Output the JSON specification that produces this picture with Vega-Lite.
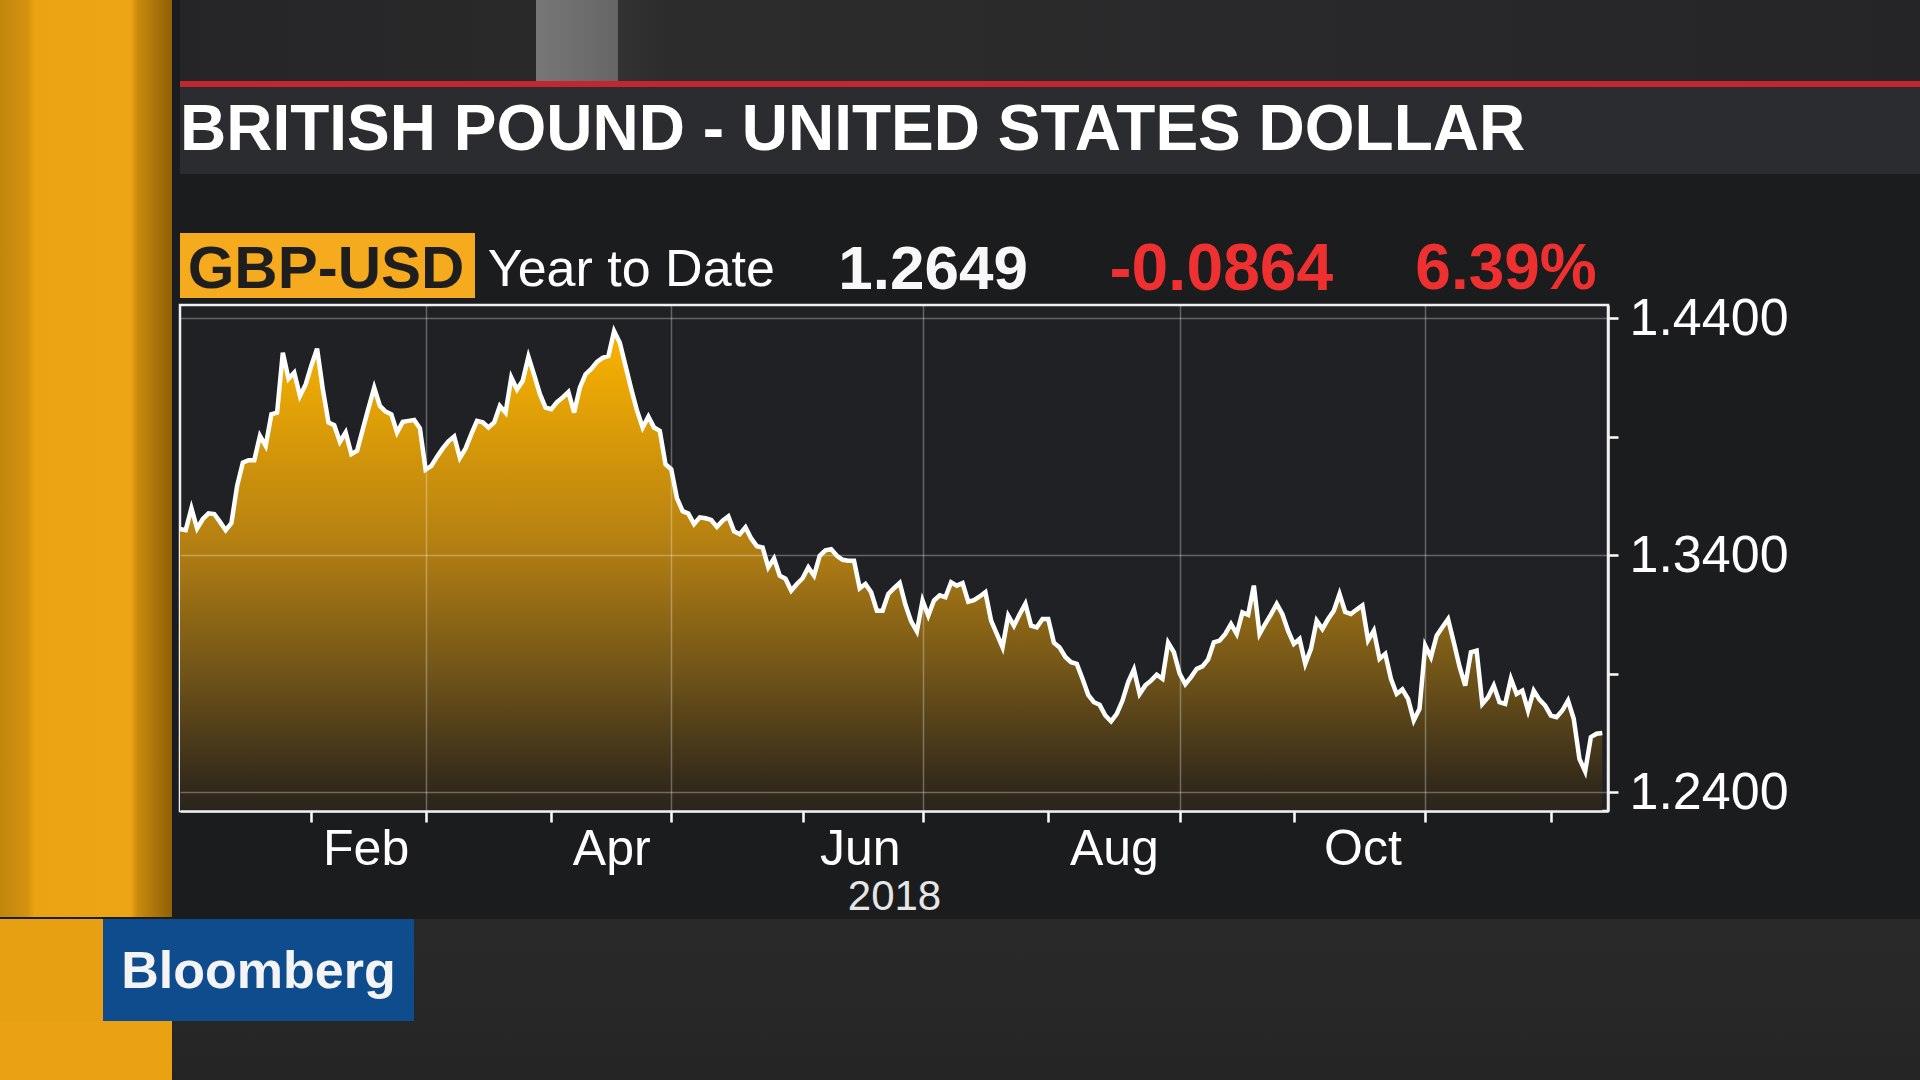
{
  "$schema": "https://vega.github.io/schema/vega-lite/v6.json",
  "background": "#1b1c1e",
  "padding": 0,
  "spacing": 0,
  "bounds": "full",
  "config": {"view": {"stroke": null}, "font": "Liberation Sans"},
  "datasets": {
    "header": [
      {"item": "GBP-USD", "kind": "ticker"},
      {"item": "Year to Date", "kind": "period"},
      {"item": "1.2649", "kind": "last"},
      {"item": "-0.0864", "kind": "change"},
      {"item": "6.39%", "kind": "changePct"}
    ],
    "gbpusd": [
      {"date": "2018-01-01", "day": 0, "price": 1.3510},
      {"date": "2018-01-02", "day": 1, "price": 1.3505},
      {"date": "2018-01-03", "day": 2, "price": 1.3597},
      {"date": "2018-01-04", "day": 3, "price": 1.3512},
      {"date": "2018-01-05", "day": 4, "price": 1.3552},
      {"date": "2018-01-08", "day": 5, "price": 1.3576},
      {"date": "2018-01-09", "day": 6, "price": 1.3573},
      {"date": "2018-01-10", "day": 7, "price": 1.3540},
      {"date": "2018-01-11", "day": 8, "price": 1.3505},
      {"date": "2018-01-12", "day": 9, "price": 1.3535},
      {"date": "2018-01-15", "day": 10, "price": 1.3692},
      {"date": "2018-01-16", "day": 11, "price": 1.3790},
      {"date": "2018-01-17", "day": 12, "price": 1.3800},
      {"date": "2018-01-18", "day": 13, "price": 1.3800},
      {"date": "2018-01-19", "day": 14, "price": 1.3903},
      {"date": "2018-01-22", "day": 15, "price": 1.3861},
      {"date": "2018-01-23", "day": 16, "price": 1.3994},
      {"date": "2018-01-24", "day": 17, "price": 1.4001},
      {"date": "2018-01-25", "day": 18, "price": 1.4254},
      {"date": "2018-01-26", "day": 19, "price": 1.4144},
      {"date": "2018-01-29", "day": 20, "price": 1.4170},
      {"date": "2018-01-30", "day": 21, "price": 1.4071},
      {"date": "2018-01-31", "day": 22, "price": 1.4120},
      {"date": "2018-02-01", "day": 23, "price": 1.4200},
      {"date": "2018-02-02", "day": 24, "price": 1.4271},
      {"date": "2018-02-05", "day": 25, "price": 1.4100},
      {"date": "2018-02-06", "day": 26, "price": 1.3959},
      {"date": "2018-02-07", "day": 27, "price": 1.3948},
      {"date": "2018-02-08", "day": 28, "price": 1.3878},
      {"date": "2018-02-09", "day": 29, "price": 1.3917},
      {"date": "2018-02-12", "day": 30, "price": 1.3826},
      {"date": "2018-02-13", "day": 31, "price": 1.3840},
      {"date": "2018-02-14", "day": 32, "price": 1.3930},
      {"date": "2018-02-15", "day": 33, "price": 1.4020},
      {"date": "2018-02-16", "day": 34, "price": 1.4106},
      {"date": "2018-02-19", "day": 35, "price": 1.4029},
      {"date": "2018-02-20", "day": 36, "price": 1.4005},
      {"date": "2018-02-21", "day": 37, "price": 1.3994},
      {"date": "2018-02-22", "day": 38, "price": 1.3917},
      {"date": "2018-02-23", "day": 39, "price": 1.3962},
      {"date": "2018-02-26", "day": 40, "price": 1.3966},
      {"date": "2018-02-27", "day": 41, "price": 1.3970},
      {"date": "2018-02-28", "day": 42, "price": 1.3935},
      {"date": "2018-03-01", "day": 43, "price": 1.3760},
      {"date": "2018-03-02", "day": 44, "price": 1.3776},
      {"date": "2018-03-05", "day": 45, "price": 1.3815},
      {"date": "2018-03-06", "day": 46, "price": 1.3850},
      {"date": "2018-03-07", "day": 47, "price": 1.3880},
      {"date": "2018-03-08", "day": 48, "price": 1.3900},
      {"date": "2018-03-09", "day": 49, "price": 1.3810},
      {"date": "2018-03-12", "day": 50, "price": 1.3850},
      {"date": "2018-03-13", "day": 51, "price": 1.3910},
      {"date": "2018-03-14", "day": 52, "price": 1.3966},
      {"date": "2018-03-15", "day": 53, "price": 1.3960},
      {"date": "2018-03-16", "day": 54, "price": 1.3938},
      {"date": "2018-03-19", "day": 55, "price": 1.3959},
      {"date": "2018-03-20", "day": 56, "price": 1.4029},
      {"date": "2018-03-21", "day": 57, "price": 1.4001},
      {"date": "2018-03-22", "day": 58, "price": 1.4149},
      {"date": "2018-03-23", "day": 59, "price": 1.4099},
      {"date": "2018-03-26", "day": 60, "price": 1.4135},
      {"date": "2018-03-27", "day": 61, "price": 1.4237},
      {"date": "2018-03-28", "day": 62, "price": 1.4160},
      {"date": "2018-03-29", "day": 63, "price": 1.4080},
      {"date": "2018-03-30", "day": 64, "price": 1.4022},
      {"date": "2018-04-02", "day": 65, "price": 1.4015},
      {"date": "2018-04-03", "day": 66, "price": 1.4045},
      {"date": "2018-04-04", "day": 67, "price": 1.4065},
      {"date": "2018-04-05", "day": 68, "price": 1.4088},
      {"date": "2018-04-06", "day": 69, "price": 1.4001},
      {"date": "2018-04-09", "day": 70, "price": 1.4106},
      {"date": "2018-04-10", "day": 71, "price": 1.4163},
      {"date": "2018-04-11", "day": 72, "price": 1.4185},
      {"date": "2018-04-12", "day": 73, "price": 1.4215},
      {"date": "2018-04-13", "day": 74, "price": 1.4232},
      {"date": "2018-04-16", "day": 75, "price": 1.4240},
      {"date": "2018-04-17", "day": 76, "price": 1.4345},
      {"date": "2018-04-18", "day": 77, "price": 1.4296},
      {"date": "2018-04-19", "day": 78, "price": 1.4198},
      {"date": "2018-04-20", "day": 79, "price": 1.4100},
      {"date": "2018-04-23", "day": 80, "price": 1.4010},
      {"date": "2018-04-24", "day": 81, "price": 1.3938},
      {"date": "2018-04-25", "day": 82, "price": 1.3984},
      {"date": "2018-04-26", "day": 83, "price": 1.3938},
      {"date": "2018-04-27", "day": 84, "price": 1.3924},
      {"date": "2018-04-30", "day": 85, "price": 1.3783},
      {"date": "2018-05-01", "day": 86, "price": 1.3762},
      {"date": "2018-05-02", "day": 87, "price": 1.3640},
      {"date": "2018-05-03", "day": 88, "price": 1.3585},
      {"date": "2018-05-04", "day": 89, "price": 1.3575},
      {"date": "2018-05-07", "day": 90, "price": 1.3531},
      {"date": "2018-05-08", "day": 91, "price": 1.3559},
      {"date": "2018-05-09", "day": 92, "price": 1.3555},
      {"date": "2018-05-10", "day": 93, "price": 1.3548},
      {"date": "2018-05-11", "day": 94, "price": 1.3519},
      {"date": "2018-05-14", "day": 95, "price": 1.3545},
      {"date": "2018-05-15", "day": 96, "price": 1.3563},
      {"date": "2018-05-16", "day": 97, "price": 1.3500},
      {"date": "2018-05-17", "day": 98, "price": 1.3488},
      {"date": "2018-05-18", "day": 99, "price": 1.3517},
      {"date": "2018-05-21", "day": 100, "price": 1.3470},
      {"date": "2018-05-22", "day": 101, "price": 1.3437},
      {"date": "2018-05-23", "day": 102, "price": 1.3432},
      {"date": "2018-05-24", "day": 103, "price": 1.3348},
      {"date": "2018-05-25", "day": 104, "price": 1.3386},
      {"date": "2018-05-28", "day": 105, "price": 1.3313},
      {"date": "2018-05-29", "day": 106, "price": 1.3300},
      {"date": "2018-05-30", "day": 107, "price": 1.3250},
      {"date": "2018-05-31", "day": 108, "price": 1.3278},
      {"date": "2018-06-01", "day": 109, "price": 1.3302},
      {"date": "2018-06-04", "day": 110, "price": 1.3348},
      {"date": "2018-06-05", "day": 111, "price": 1.3313},
      {"date": "2018-06-06", "day": 112, "price": 1.3397},
      {"date": "2018-06-07", "day": 113, "price": 1.3420},
      {"date": "2018-06-08", "day": 114, "price": 1.3425},
      {"date": "2018-06-11", "day": 115, "price": 1.3397},
      {"date": "2018-06-12", "day": 116, "price": 1.3380},
      {"date": "2018-06-13", "day": 117, "price": 1.3376},
      {"date": "2018-06-14", "day": 118, "price": 1.3376},
      {"date": "2018-06-15", "day": 119, "price": 1.3260},
      {"date": "2018-06-18", "day": 120, "price": 1.3278},
      {"date": "2018-06-19", "day": 121, "price": 1.3243},
      {"date": "2018-06-20", "day": 122, "price": 1.3165},
      {"date": "2018-06-21", "day": 123, "price": 1.3165},
      {"date": "2018-06-22", "day": 124, "price": 1.3236},
      {"date": "2018-06-25", "day": 125, "price": 1.3260},
      {"date": "2018-06-26", "day": 126, "price": 1.3282},
      {"date": "2018-06-27", "day": 127, "price": 1.3190},
      {"date": "2018-06-28", "day": 128, "price": 1.3120},
      {"date": "2018-06-29", "day": 129, "price": 1.3078},
      {"date": "2018-07-02", "day": 130, "price": 1.3208},
      {"date": "2018-07-03", "day": 131, "price": 1.3144},
      {"date": "2018-07-04", "day": 132, "price": 1.3208},
      {"date": "2018-07-05", "day": 133, "price": 1.3230},
      {"date": "2018-07-06", "day": 134, "price": 1.3222},
      {"date": "2018-07-09", "day": 135, "price": 1.3285},
      {"date": "2018-07-10", "day": 136, "price": 1.3271},
      {"date": "2018-07-11", "day": 137, "price": 1.3282},
      {"date": "2018-07-12", "day": 138, "price": 1.3203},
      {"date": "2018-07-13", "day": 139, "price": 1.3210},
      {"date": "2018-07-16", "day": 140, "price": 1.3225},
      {"date": "2018-07-17", "day": 141, "price": 1.3243},
      {"date": "2018-07-18", "day": 142, "price": 1.3123},
      {"date": "2018-07-19", "day": 143, "price": 1.3067},
      {"date": "2018-07-20", "day": 144, "price": 1.3011},
      {"date": "2018-07-23", "day": 145, "price": 1.3144},
      {"date": "2018-07-24", "day": 146, "price": 1.3102},
      {"date": "2018-07-25", "day": 147, "price": 1.3150},
      {"date": "2018-07-26", "day": 148, "price": 1.3194},
      {"date": "2018-07-27", "day": 149, "price": 1.3102},
      {"date": "2018-07-30", "day": 150, "price": 1.3095},
      {"date": "2018-07-31", "day": 151, "price": 1.3130},
      {"date": "2018-08-01", "day": 152, "price": 1.3130},
      {"date": "2018-08-02", "day": 153, "price": 1.3030},
      {"date": "2018-08-03", "day": 154, "price": 1.3010},
      {"date": "2018-08-06", "day": 155, "price": 1.2970},
      {"date": "2018-08-07", "day": 156, "price": 1.2948},
      {"date": "2018-08-08", "day": 157, "price": 1.2941},
      {"date": "2018-08-09", "day": 158, "price": 1.2878},
      {"date": "2018-08-10", "day": 159, "price": 1.2810},
      {"date": "2018-08-13", "day": 160, "price": 1.2779},
      {"date": "2018-08-14", "day": 161, "price": 1.2768},
      {"date": "2018-08-15", "day": 162, "price": 1.2723},
      {"date": "2018-08-16", "day": 163, "price": 1.2698},
      {"date": "2018-08-17", "day": 164, "price": 1.2730},
      {"date": "2018-08-20", "day": 165, "price": 1.2786},
      {"date": "2018-08-21", "day": 166, "price": 1.2864},
      {"date": "2018-08-22", "day": 167, "price": 1.2917},
      {"date": "2018-08-23", "day": 168, "price": 1.2814},
      {"date": "2018-08-24", "day": 169, "price": 1.2850},
      {"date": "2018-08-27", "day": 170, "price": 1.2870},
      {"date": "2018-08-28", "day": 171, "price": 1.2895},
      {"date": "2018-08-29", "day": 172, "price": 1.2878},
      {"date": "2018-08-30", "day": 173, "price": 1.3030},
      {"date": "2018-08-31", "day": 174, "price": 1.2990},
      {"date": "2018-09-03", "day": 175, "price": 1.2900},
      {"date": "2018-09-04", "day": 176, "price": 1.2855},
      {"date": "2018-09-05", "day": 177, "price": 1.2885},
      {"date": "2018-09-06", "day": 178, "price": 1.2920},
      {"date": "2018-09-07", "day": 179, "price": 1.2930},
      {"date": "2018-09-10", "day": 180, "price": 1.2960},
      {"date": "2018-09-11", "day": 181, "price": 1.3032},
      {"date": "2018-09-12", "day": 182, "price": 1.3039},
      {"date": "2018-09-13", "day": 183, "price": 1.3067},
      {"date": "2018-09-14", "day": 184, "price": 1.3109},
      {"date": "2018-09-17", "day": 185, "price": 1.3067},
      {"date": "2018-09-18", "day": 186, "price": 1.3158},
      {"date": "2018-09-19", "day": 187, "price": 1.3148},
      {"date": "2018-09-20", "day": 188, "price": 1.3271},
      {"date": "2018-09-21", "day": 189, "price": 1.3067},
      {"date": "2018-09-24", "day": 190, "price": 1.3110},
      {"date": "2018-09-25", "day": 191, "price": 1.3150},
      {"date": "2018-09-26", "day": 192, "price": 1.3194},
      {"date": "2018-09-27", "day": 193, "price": 1.3150},
      {"date": "2018-09-28", "day": 194, "price": 1.3080},
      {"date": "2018-10-01", "day": 195, "price": 1.3025},
      {"date": "2018-10-02", "day": 196, "price": 1.3046},
      {"date": "2018-10-03", "day": 197, "price": 1.2941},
      {"date": "2018-10-04", "day": 198, "price": 1.3004},
      {"date": "2018-10-05", "day": 199, "price": 1.3123},
      {"date": "2018-10-08", "day": 200, "price": 1.3088},
      {"date": "2018-10-09", "day": 201, "price": 1.3130},
      {"date": "2018-10-10", "day": 202, "price": 1.3165},
      {"date": "2018-10-11", "day": 203, "price": 1.3236},
      {"date": "2018-10-12", "day": 204, "price": 1.3160},
      {"date": "2018-10-15", "day": 205, "price": 1.3151},
      {"date": "2018-10-16", "day": 206, "price": 1.3170},
      {"date": "2018-10-17", "day": 207, "price": 1.3187},
      {"date": "2018-10-18", "day": 208, "price": 1.3040},
      {"date": "2018-10-19", "day": 209, "price": 1.3081},
      {"date": "2018-10-22", "day": 210, "price": 1.2962},
      {"date": "2018-10-23", "day": 211, "price": 1.2983},
      {"date": "2018-10-24", "day": 212, "price": 1.2878},
      {"date": "2018-10-25", "day": 213, "price": 1.2814},
      {"date": "2018-10-26", "day": 214, "price": 1.2833},
      {"date": "2018-10-29", "day": 215, "price": 1.2793},
      {"date": "2018-10-30", "day": 216, "price": 1.2702},
      {"date": "2018-10-31", "day": 217, "price": 1.2751},
      {"date": "2018-11-01", "day": 218, "price": 1.3018},
      {"date": "2018-11-02", "day": 219, "price": 1.2969},
      {"date": "2018-11-05", "day": 220, "price": 1.3060},
      {"date": "2018-11-06", "day": 221, "price": 1.3095},
      {"date": "2018-11-07", "day": 222, "price": 1.3130},
      {"date": "2018-11-08", "day": 223, "price": 1.3032},
      {"date": "2018-11-09", "day": 224, "price": 1.2930},
      {"date": "2018-11-12", "day": 225, "price": 1.2849},
      {"date": "2018-11-13", "day": 226, "price": 1.2990},
      {"date": "2018-11-14", "day": 227, "price": 1.2997},
      {"date": "2018-11-15", "day": 228, "price": 1.2772},
      {"date": "2018-11-16", "day": 229, "price": 1.2800},
      {"date": "2018-11-19", "day": 230, "price": 1.2849},
      {"date": "2018-11-20", "day": 231, "price": 1.2779},
      {"date": "2018-11-21", "day": 232, "price": 1.2772},
      {"date": "2018-11-22", "day": 233, "price": 1.2878},
      {"date": "2018-11-23", "day": 234, "price": 1.2814},
      {"date": "2018-11-26", "day": 235, "price": 1.2828},
      {"date": "2018-11-27", "day": 236, "price": 1.2744},
      {"date": "2018-11-28", "day": 237, "price": 1.2828},
      {"date": "2018-11-29", "day": 238, "price": 1.2790},
      {"date": "2018-11-30", "day": 239, "price": 1.2765},
      {"date": "2018-12-03", "day": 240, "price": 1.2723},
      {"date": "2018-12-04", "day": 241, "price": 1.2716},
      {"date": "2018-12-05", "day": 242, "price": 1.2744},
      {"date": "2018-12-06", "day": 243, "price": 1.2786},
      {"date": "2018-12-07", "day": 244, "price": 1.2709},
      {"date": "2018-12-10", "day": 245, "price": 1.2540},
      {"date": "2018-12-11", "day": 246, "price": 1.2487},
      {"date": "2018-12-12", "day": 247, "price": 1.2632},
      {"date": "2018-12-13", "day": 248, "price": 1.2646},
      {"date": "2018-12-14", "day": 249, "price": 1.2649}
    ]
  },
  "vconcat": [
    {
      "hconcat": [
        {
          "width": 172, "height": 917,
          "view": {"fill": {"gradient": "linear", "x1": 0, "y1": 0, "x2": 1, "y2": 0, "stops": [{"offset": 0, "color": "#c2860c"}, {"offset": 0.16, "color": "#d4920e"}, {"offset": 0.2, "color": "#eba213"}, {"offset": 0.76, "color": "#eea515"}, {"offset": 0.8, "color": "#c98a0c"}, {"offset": 1, "color": "#8f6006"}]}},
          "data": {"values": [{}]},
          "mark": {"type": "text", "text": ""}
        },
        {
          "vconcat": [
            {
              "width": 1740, "height": 81,
              "view": {"fill": {"gradient": "linear", "x1": 0, "y1": 0, "x2": 1, "y2": 0, "stops": [{"offset": 0, "color": "#252527"}, {"offset": 0.2045, "color": "#29292a"}, {"offset": 0.2046, "color": "#777777"}, {"offset": 0.2517, "color": "#666666"}, {"offset": 0.2518, "color": "#323233"}, {"offset": 0.28, "color": "#2c2c2d"}, {"offset": 1, "color": "#252527"}]}},
              "data": {"values": [{}]},
              "mark": {"type": "text", "text": ""}
            },
            {"width": 1740, "height": 6, "view": {"fill": "#c1272d"}, "data": {"values": [{}]}, "mark": {"type": "text", "text": ""}},
            {
              "width": 1740, "height": 87,
              "view": {"fill": "#2b2c2f"},
              "data": {"values": [{"title": "BRITISH POUND - UNITED STATES DOLLAR"}]},
              "mark": {"type": "text", "align": "left", "baseline": "middle", "fontWeight": "bold", "fontSize": 64, "color": "#ffffff"},
              "encoding": {
                "text": {"field": "title"},
                "x": {"datum": 0, "type": "quantitative", "scale": {"domain": [0, 1]}, "axis": null}
              }
            },
            {"width": 10, "height": 59, "data": {"values": [{}]}, "mark": {"type": "text", "text": ""}},
            {
              "width": 1475, "height": 65,
              "data": {"name": "header"},
              "layer": [
                {
                  "transform": [{"filter": "datum.kind == 'ticker'"}],
                  "mark": {"type": "bar", "color": "#f6ab1f", "opacity": 1},
                  "encoding": {"x": {"field": "item", "type": "nominal", "scale": {"type": "band", "domain": ["GBP-USD", "Year to Date", "1.2649", "-0.0864", "6.39%"], "paddingInner": 0, "paddingOuter": 0}, "axis": null}}
                },
                {
                  "transform": [{"filter": "datum.kind == 'ticker'"}],
                  "mark": {"type": "text", "fontWeight": "bold", "fontSize": 60, "color": "#1e1e1e", "baseline": "middle", "dy": 4},
                  "encoding": {"x": {"field": "item", "type": "nominal", "bandPosition": 0.495, "scale": {"type": "band", "domain": ["GBP-USD", "Year to Date", "1.2649", "-0.0864", "6.39%"], "paddingInner": 0, "paddingOuter": 0}, "axis": null}, "text": {"field": "item"}}
                },
                {
                  "transform": [{"filter": "datum.kind == 'period'"}],
                  "mark": {"type": "text", "fontWeight": "normal", "fontSize": 52, "color": "#ffffff", "baseline": "middle", "dy": 4},
                  "encoding": {"x": {"field": "item", "type": "nominal", "bandPosition": 0.53, "scale": {"type": "band", "domain": ["GBP-USD", "Year to Date", "1.2649", "-0.0864", "6.39%"], "paddingInner": 0, "paddingOuter": 0}, "axis": null}, "text": {"field": "item"}}
                },
                {
                  "transform": [{"filter": "datum.kind == 'last'"}],
                  "mark": {"type": "text", "fontWeight": "bold", "fontSize": 62, "color": "#f8f8f8", "baseline": "middle", "dy": 4},
                  "encoding": {"x": {"field": "item", "type": "nominal", "bandPosition": 0.553, "scale": {"type": "band", "domain": ["GBP-USD", "Year to Date", "1.2649", "-0.0864", "6.39%"], "paddingInner": 0, "paddingOuter": 0}, "axis": null}, "text": {"field": "item"}}
                },
                {
                  "transform": [{"filter": "datum.kind == 'change'"}],
                  "mark": {"type": "text", "fontWeight": "bold", "fontSize": 66, "color": "#ef3030", "baseline": "middle", "dy": 4},
                  "encoding": {"x": {"field": "item", "type": "nominal", "bandPosition": 0.53, "scale": {"type": "band", "domain": ["GBP-USD", "Year to Date", "1.2649", "-0.0864", "6.39%"], "paddingInner": 0, "paddingOuter": 0}, "axis": null}, "text": {"field": "item"}}
                },
                {
                  "transform": [{"filter": "datum.kind == 'changePct'"}],
                  "mark": {"type": "text", "fontWeight": "bold", "fontSize": 64, "color": "#ef3030", "baseline": "middle", "dy": 4},
                  "encoding": {"x": {"field": "item", "type": "nominal", "bandPosition": 0.495, "scale": {"type": "band", "domain": ["GBP-USD", "Year to Date", "1.2649", "-0.0864", "6.39%"], "paddingInner": 0, "paddingOuter": 0}, "axis": null}, "text": {"field": "item"}}
                }
              ]
            },
            {"width": 10, "height": 7, "data": {"values": [{}]}, "mark": {"type": "text", "text": ""}},
            {
              "width": 1428, "height": 506,
              "view": {"fill": "#1f2124", "stroke": "#f0f0f0", "strokeWidth": 2.5},
              "data": {"name": "gbpusd"},
              "mark": {
                "type": "area",
                "opacity": 1,
                "fillOpacity": 1,
                "color": {"gradient": "linear", "x1": 0, "y1": 0, "x2": 0, "y2": 1, "stops": [{"offset": 0, "color": "#fbb400"}, {"offset": 0.44, "color": "#b58012"}, {"offset": 0.7, "color": "#735618"}, {"offset": 0.94, "color": "#352b1b"}, {"offset": 1, "color": "#2a251b"}]},
                "line": {"color": "#ffffff", "strokeWidth": 4.5}
              },
              "encoding": {
                "x": {
                  "field": "day", "type": "quantitative",
                  "scale": {"domain": [0, 250], "nice": false, "zero": false},
                  "axis": {
                    "orient": "bottom",
                    "values": [23, 32.5, 43, 65, 75.5, 86, 109, 119, 130, 152, 163.5, 175, 195, 207, 218, 240],
                    "labelExpr": "datum.value == 32.5 ? 'Feb' : datum.value == 75.5 ? 'Apr' : datum.value == 119 ? 'Jun' : datum.value == 163.5 ? 'Aug' : datum.value == 207 ? 'Oct' : ''",
                    "labelFontSize": 50, "labelColor": "#ffffff", "labelPadding": 2,
                    "labelOverlap": false, "labelFlush": false, "labelBound": false,
                    "tickColor": "#ffffff", "tickSize": 11, "tickWidth": 2.5,
                    "tickOpacity": {"condition": {"test": "indexof([32.5, 75.5, 119, 163.5, 207], datum.value) >= 0", "value": 0}, "value": 1},
                    "grid": true, "gridColor": "#ffffff", "gridWidth": 1.5,
                    "gridOpacity": {"condition": {"test": "indexof([43, 86, 130, 175, 218], datum.value) >= 0", "value": 0.3}, "value": 0},
                    "domain": true, "domainColor": "#f0f0f0", "domainWidth": 2.5,
                    "title": "2018", "titleFontSize": 42, "titleFontWeight": "normal", "titleColor": "#e6e6e6", "titlePadding": 2,
                    "zindex": 1
                  }
                },
                "y": {
                  "field": "price", "type": "quantitative",
                  "scale": {"domain": [1.232, 1.4455], "nice": false, "zero": false},
                  "axis": {
                    "orient": "right",
                    "values": [1.24, 1.29, 1.34, 1.39, 1.44],
                    "format": ".4f",
                    "labelExpr": "abs(datum.value - 1.29) < 0.001 || abs(datum.value - 1.39) < 0.001 ? '' : datum.label",
                    "labelFontSize": 52, "labelColor": "#ffffff", "labelPadding": 11, "labelBaseline": "middle",
                    "labelOverlap": false, "labelFlush": false, "labelBound": false,
                    "tickColor": "#ffffff", "tickSize": 10, "tickWidth": 2.5,
                    "grid": true, "gridColor": "#ffffff", "gridWidth": 1.5,
                    "gridOpacity": {"condition": {"test": "abs(datum.value - 1.29) < 0.001 || abs(datum.value - 1.39) < 0.001", "value": 0}, "value": 0.3},
                    "domain": true, "domainColor": "#f0f0f0", "domainWidth": 2.5,
                    "title": null,
                    "zindex": 1
                  }
                },
                "y2": {"datum": 1.232}
              }
            }
          ],
          "spacing": 0, "bounds": "flush"
        }
      ],
      "spacing": 8, "bounds": "flush"
    },
    {
      "hconcat": [
        {"width": 103, "height": 102, "view": {"fill": "#e8a013"}, "data": {"values": [{}]}, "mark": {"type": "text", "text": ""}},
        {
          "width": 311, "height": 102,
          "view": {"fill": "#0f4c8e"},
          "data": {"values": [{"brand": "Bloomberg"}]},
          "mark": {"type": "text", "fontSize": 52, "fontWeight": "bold", "color": "#f4f4f4", "baseline": "middle", "dy": 2},
          "encoding": {"text": {"field": "brand"}}
        },
        {
          "width": 1506, "height": 102,
          "view": {"fill": {"gradient": "linear", "x1": 0, "y1": 0, "x2": 0, "y2": 1, "stops": [{"offset": 0, "color": "#29292a"}, {"offset": 1, "color": "#272728"}]}},
          "data": {"values": [{}]},
          "mark": {"type": "text", "text": ""}
        }
      ],
      "spacing": 0, "bounds": "flush"
    },
    {
      "hconcat": [
        {"width": 172, "height": 61, "view": {"fill": "#eaa214"}, "data": {"values": [{}]}, "mark": {"type": "text", "text": ""}},
        {"width": 1748, "height": 61, "view": {"fill": {"gradient": "linear", "x1": 0, "y1": 0, "x2": 0, "y2": 1, "stops": [{"offset": 0, "color": "#272728"}, {"offset": 1, "color": "#242425"}]}}, "data": {"values": [{}]}, "mark": {"type": "text", "text": ""}}
      ],
      "spacing": 0, "bounds": "flush"
    }
  ]
}
